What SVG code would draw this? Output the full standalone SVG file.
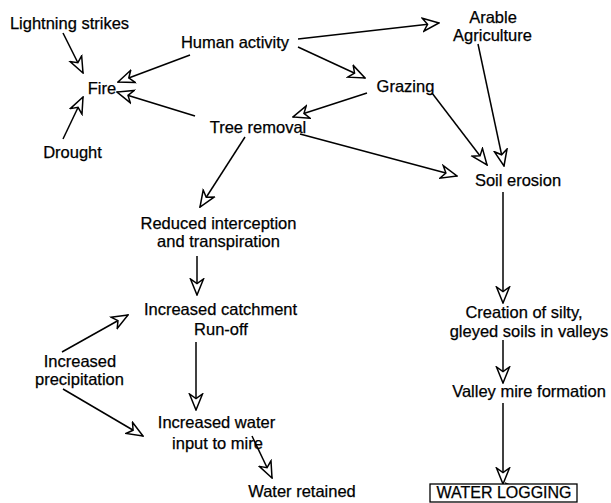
<svg xmlns="http://www.w3.org/2000/svg" width="611" height="503" viewBox="0 0 611 503">
<defs>
<marker id="ah" markerUnits="userSpaceOnUse" markerWidth="18" markerHeight="16" viewBox="0 0 18 16" refX="17" refY="8" orient="auto">
<path d="M1,1.5 L17,8 L1,14.5 L5.5,8 Z" fill="#fff" stroke="#000" stroke-width="1.5" stroke-linejoin="miter"/>
</marker>
</defs>
<style>
text{font-family:"Liberation Sans",Arial,sans-serif;font-size:16.5px;fill:#000;stroke:#000;stroke-width:0.25;text-anchor:middle}
.c line{stroke:#000;stroke-width:1.5;marker-end:url(#ah)}
</style>
<rect width="611" height="503" fill="#fff"/>
<g class="c" id="connectors">
<line x1="63" y1="33" x2="83" y2="73"/>
<line x1="63" y1="139" x2="83" y2="97"/>
<line x1="190" y1="55" x2="118" y2="82"/>
<line x1="195" y1="116" x2="117" y2="92"/>
<line x1="298" y1="39" x2="439" y2="23"/>
<line x1="298" y1="47" x2="365" y2="78"/>
<line x1="367" y1="93" x2="293" y2="117"/>
<line x1="300" y1="134" x2="457" y2="176"/>
<line x1="432" y1="93" x2="487" y2="165"/>
<line x1="478" y1="44" x2="504" y2="166"/>
<line x1="245" y1="137" x2="200" y2="207"/>
<line x1="197" y1="256" x2="197" y2="295"/>
<line x1="62" y1="352" x2="128" y2="315"/>
<line x1="196" y1="342" x2="196" y2="410"/>
<line x1="63" y1="389" x2="143" y2="436"/>
<line x1="252" y1="436" x2="272" y2="478"/>
<line x1="503" y1="192" x2="503" y2="303"/>
<line x1="503" y1="340" x2="503" y2="383"/>
<line x1="503" y1="403" x2="503" y2="484"/>
<line x1="478" y1="490" x2="522" y2="490"/>
</g>
<g id="lightning"><text x="69.5" y="29">Lightning strikes</text></g>
<g id="human"><text x="235" y="48">Human activity</text></g>
<g id="fire"><text x="102" y="94">Fire</text></g>
<g id="drought"><text x="72.5" y="158">Drought</text></g>
<g id="tree"><text x="258" y="133">Tree removal</text></g>
<g id="arable"><text x="493" y="23">Arable</text><text x="492.5" y="41">Agriculture</text></g>
<g id="grazing"><text x="405.5" y="92">Grazing</text></g>
<g id="soil"><text x="518" y="186">Soil erosion</text></g>
<g id="reduced"><text x="218.5" y="229">Reduced interception</text><text x="218.5" y="247">and transpiration</text></g>
<g id="catchment"><text x="220.5" y="315">Increased catchment</text><text x="221" y="335">Run-off</text></g>
<g id="precip"><text x="80" y="367">Increased</text><text x="79.5" y="385">precipitation</text></g>
<g id="water"><text x="216.5" y="428">Increased water</text><text x="217.5" y="449">input to mire</text></g>
<g id="retained"><text x="302" y="497">Water retained</text></g>
<g id="creation"><text x="524" y="318">Creation of silty,</text><text x="529" y="337">gleyed soils in valleys</text></g>
<g id="valley"><text x="529" y="397">Valley mire formation</text></g>
<g id="logging"><rect x="430" y="484" width="147" height="18" fill="#fff" stroke="#000" stroke-width="1.3"/><text x="504" y="498" style="font-size:16px">WATER LOGGING</text></g>
</svg>
